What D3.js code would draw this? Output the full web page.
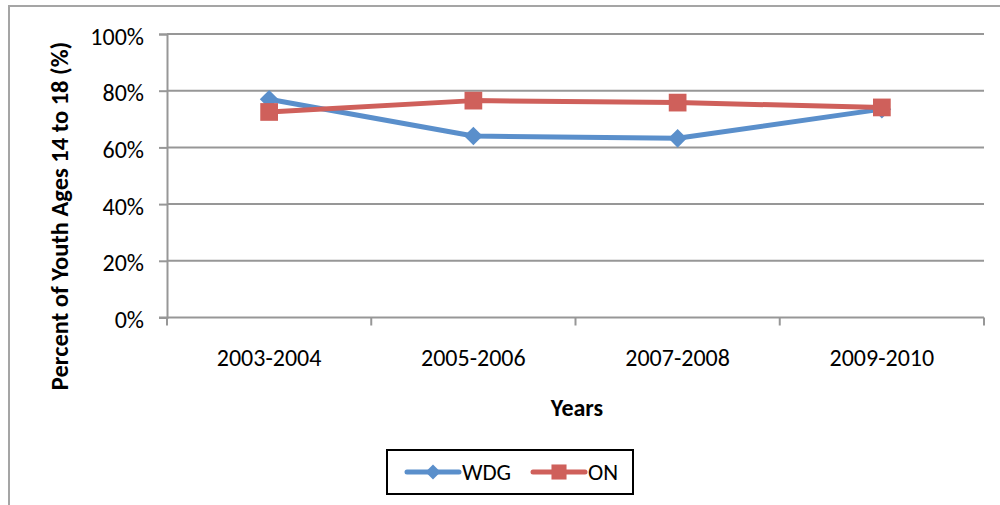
<!DOCTYPE html>
<html>
<head>
<meta charset="utf-8">
<script src="https://cdn.jsdelivr.net/npm/d3@7"></script>
<style>
  html, body { margin: 0; padding: 0; background: #fff; }
  svg { display: block; }
  text { font-family: Carlito, Lato, "Open Sans", sans-serif; fill: #000; }
</style>
</head>
<body>
<svg id="chart" width="1000" height="505"></svg>
<script>
// Share of youth aged 14 to 18, by survey period
const categories = ["2003-2004", "2005-2006", "2007-2008", "2009-2010"];
const wdgValues = [0.77, 0.64, 0.632, 0.735];
const onValues = [0.725, 0.765, 0.758, 0.741];
const yTicks = [0, 0.2, 0.4, 0.6, 0.8, 1.0];
const seriesNames = ["WDG", "ON"];

const colors = { WDG: "#5A8FCB", ON: "#CF605B" };
const gridColor = "#979797";

const svg = d3.select("#chart");

// outer frame
svg.append("rect")
  .attr("x", 9).attr("y", 6).attr("width", 1000).attr("height", 520)
  .attr("fill", "none").attr("stroke", "#A5A5A5").attr("stroke-width", 2);

const plot = { left: 167, right: 984, top: 34, bottom: 317.5 };

const x = d3.scaleBand().domain(categories).range([plot.left, plot.right]);
const y = d3.scaleLinear().domain([0, 1]).range([plot.bottom, plot.top]);

// horizontal gridlines
svg.append("g").selectAll("line")
  .data(yTicks.filter(d => d > 0))
  .join("line")
  .attr("x1", plot.left).attr("x2", plot.right)
  .attr("y1", d => y(d)).attr("y2", d => y(d))
  .attr("stroke", gridColor).attr("stroke-width", 2);

// y axis
const yAxis = svg.append("g")
  .attr("transform", `translate(${plot.left},0)`)
  .call(d3.axisLeft(y).tickValues(yTicks).tickFormat(d3.format(".0%")).tickSize(8).tickPadding(15));
yAxis.select(".domain").attr("stroke", gridColor).attr("stroke-width", 2);
yAxis.selectAll(".tick line").attr("stroke", gridColor).attr("stroke-width", 2);
yAxis.selectAll(".tick text")
  .attr("font-size", 24).attr("font-family", null).attr("dy", "0.42em");

// x axis line and category tick marks at band edges
svg.append("line")
  .attr("x1", plot.left - 8).attr("x2", plot.right)
  .attr("y1", plot.bottom).attr("y2", plot.bottom)
  .attr("stroke", gridColor).attr("stroke-width", 2);
const edges = categories.map(c => x(c)).concat([x.range()[1]]);
svg.append("g").selectAll("line")
  .data(edges)
  .join("line")
  .attr("x1", d => d).attr("x2", d => d)
  .attr("y1", plot.bottom).attr("y2", plot.bottom + 8)
  .attr("stroke", gridColor).attr("stroke-width", 2);
svg.append("g").selectAll("text")
  .data(categories)
  .join("text")
  .attr("x", d => x(d) + x.bandwidth() / 2)
  .attr("y", 357)
  .attr("dy", "0.36em")
  .attr("text-anchor", "middle")
  .attr("font-size", 24)
  .text(d => d);

// axis titles
svg.append("text")
  .attr("transform", "translate(59,216) rotate(-90)")
  .attr("text-anchor", "middle").attr("dy", "0.36em")
  .attr("font-size", 24.5).attr("font-weight", "bold")
  .text("Percent of Youth Ages 14 to 18 (%)");
svg.append("text")
  .attr("x", 577).attr("y", 407).attr("dy", "0.36em")
  .attr("text-anchor", "middle")
  .attr("font-size", 24).attr("font-weight", "bold")
  .text("Years");

const cx = c => x(c) + x.bandwidth() / 2;
const line = d3.line().x(d => cx(d.c)).y(d => y(d.v));

const diamond = d3.symbol().type(d3.symbolDiamond2);
const square = d3.symbol().type(d3.symbolSquare2);

function drawSeries(name, values, markerPath) {
  const data = categories.map((c, i) => ({ c, v: values[i] }));
  const g = svg.append("g");
  g.append("path").datum(data)
    .attr("d", line)
    .attr("fill", "none").attr("stroke", colors[name])
    .attr("stroke-width", 5).attr("stroke-linejoin", "round");
  g.selectAll("path.m").data(data).join("path")
    .attr("class", "m")
    .attr("transform", d => `translate(${cx(d.c)},${y(d.v)})`)
    .attr("d", markerPath)
    .attr("fill", colors[name]);
}

drawSeries("WDG", wdgValues, diamond.size(21 * 21 / 2)());
drawSeries("ON", onValues, square.size(20 * 20)());

// legend
const legend = svg.append("g");
legend.append("rect")
  .attr("x", 387).attr("y", 450).attr("width", 246).attr("height", 44)
  .attr("fill", "#fff").attr("stroke", "#000").attr("stroke-width", 2);
const legendItems = [
  { name: "WDG", x0: 407, marker: diamond.size(17 * 17 / 2)() },
  { name: "ON", x0: 533, marker: square.size(17 * 17)() }
];
legendItems.forEach(it => {
  legend.append("line")
    .attr("x1", it.x0).attr("x2", it.x0 + 52)
    .attr("y1", 472).attr("y2", 472)
    .attr("stroke", colors[it.name]).attr("stroke-width", 5)
    .attr("stroke-linecap", "round");
  legend.append("path")
    .attr("transform", `translate(${it.x0 + 26},472)`)
    .attr("d", it.marker)
    .attr("fill", colors[it.name]);
  legend.append("text")
    .attr("x", it.x0 + 55).attr("y", 472).attr("dy", "0.36em")
    .attr("font-size", 23)
    .text(it.name);
});
</script>
</body>
</html>
